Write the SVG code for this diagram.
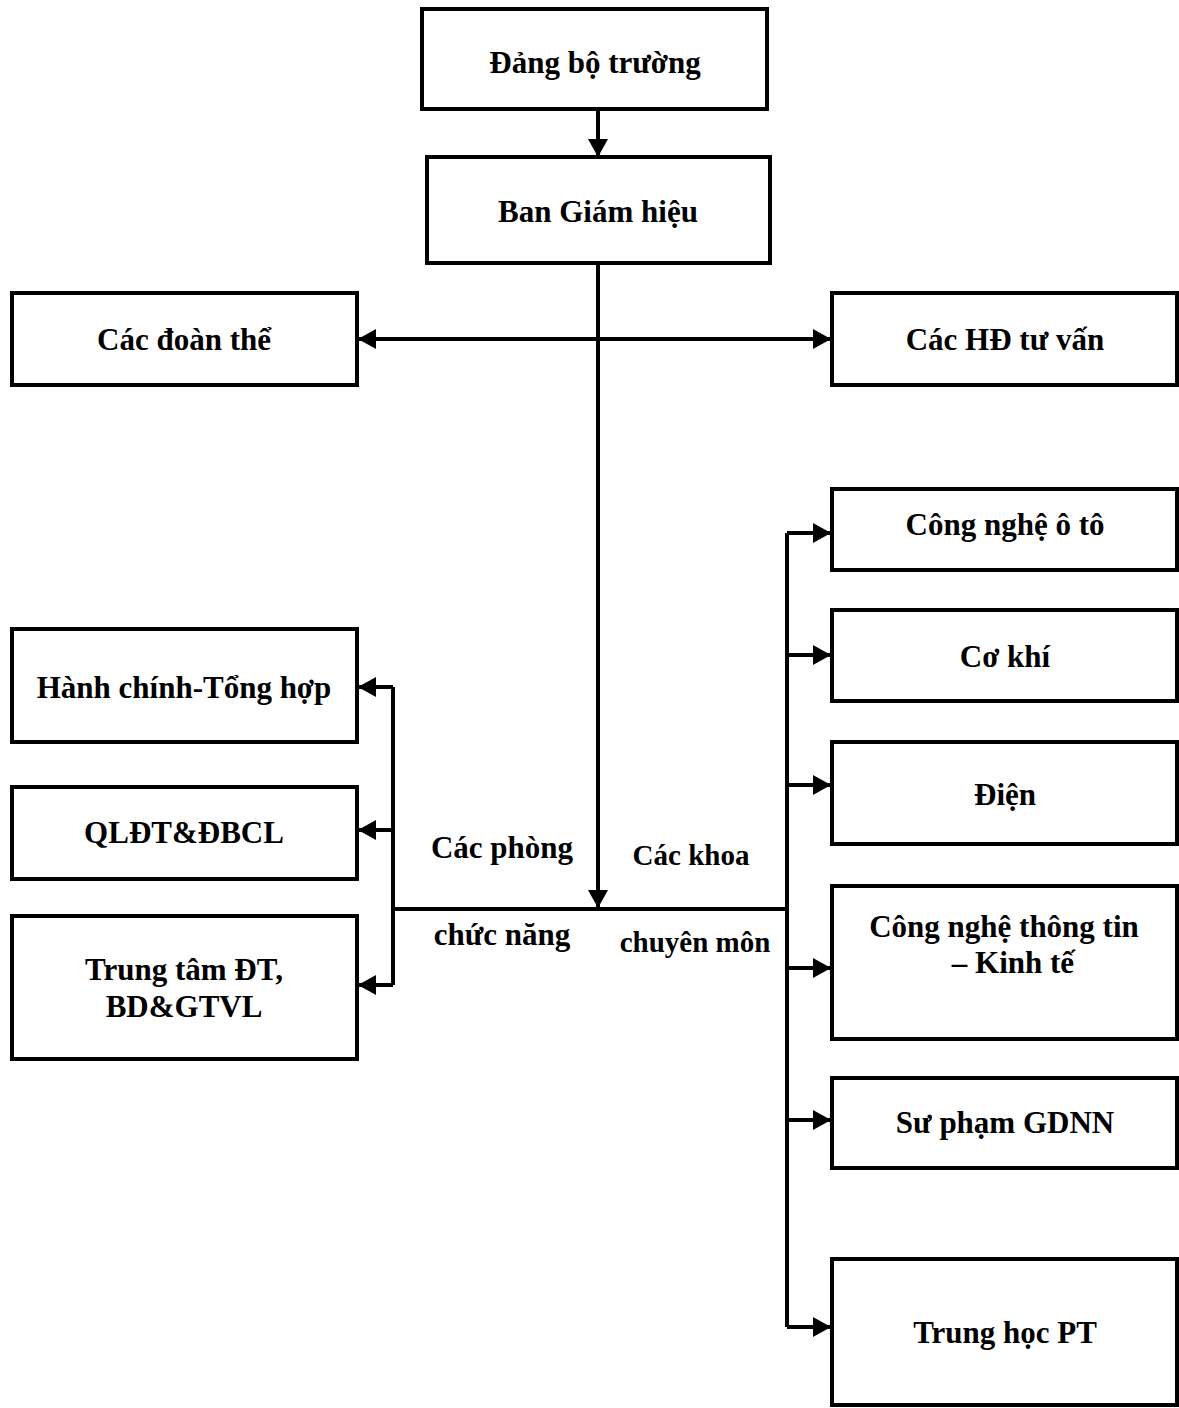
<svg xmlns="http://www.w3.org/2000/svg" width="1179" height="1408" viewBox="0 0 1179 1408">
<style>
rect.box{fill:#fff;stroke:#000;stroke-width:4}
text{font-family:"Liberation Serif","Times New Roman",serif;font-weight:bold;font-size:31px;fill:#000;text-anchor:middle}
text.sm{font-size:29px}
.c{fill:none;stroke:#000;stroke-width:4}
</style>
<defs>
<marker id="ah" markerUnits="userSpaceOnUse" markerWidth="18" markerHeight="20" refX="18" refY="10" orient="auto-start-reverse" viewBox="0 0 18 20">
<path d="M0,0 L18,10 L0,20 z" fill="#000"/>
</marker>
</defs>
<g id="connectors">
<line class="c" x1="598" y1="110" x2="598" y2="157" marker-end="url(#ah)"/>
<line class="c" x1="358" y1="339" x2="831" y2="339" marker-start="url(#ah)" marker-end="url(#ah)"/>
<line class="c" x1="598" y1="263" x2="598" y2="908" marker-end="url(#ah)"/>
<line class="c" x1="393" y1="909" x2="787" y2="909"/>
<polyline class="c" points="393,687 393,985"/>
<line class="c" x1="393" y1="687" x2="358" y2="687" marker-end="url(#ah)"/>
<line class="c" x1="393" y1="830" x2="358" y2="830" marker-end="url(#ah)"/>
<line class="c" x1="393" y1="985" x2="358" y2="985" marker-end="url(#ah)"/>
<polyline class="c" points="787,533 787,1327"/>
<line class="c" x1="787" y1="533" x2="831" y2="533" marker-end="url(#ah)"/>
<line class="c" x1="787" y1="655" x2="831" y2="655" marker-end="url(#ah)"/>
<line class="c" x1="787" y1="785" x2="831" y2="785" marker-end="url(#ah)"/>
<line class="c" x1="787" y1="968" x2="831" y2="968" marker-end="url(#ah)"/>
<line class="c" x1="787" y1="1120" x2="831" y2="1120" marker-end="url(#ah)"/>
<line class="c" x1="787" y1="1327" x2="831" y2="1327" marker-end="url(#ah)"/>
</g>
<g id="dang-bo"><rect class="box" x="422" y="9" width="345" height="100"/><text x="595" y="73">Đảng bộ trường</text></g>
<g id="ban-giam-hieu"><rect class="box" x="427" y="157" width="343" height="106"/><text x="598" y="222">Ban Giám hiệu</text></g>
<g id="doan-the"><rect class="box" x="12" y="293" width="345" height="92"/><text x="184" y="350">Các đoàn thể</text></g>
<g id="hd-tu-van"><rect class="box" x="832" y="293" width="345" height="92"/><text x="1005" y="350">Các HĐ tư vấn</text></g>
<g id="hanh-chinh"><rect class="box" x="12" y="629" width="345" height="113"/><text x="184" y="698">Hành chính-Tổng hợp</text></g>
<g id="qldt"><rect class="box" x="12" y="787" width="345" height="92"/><text x="184" y="843">QLĐT&amp;ĐBCL</text></g>
<g id="trung-tam"><rect class="box" x="12" y="916" width="345" height="143"/><text x="184" y="980">Trung tâm ĐT,</text><text x="184" y="1017">BD&amp;GTVL</text></g>
<g id="label-phong"><text x="502" y="858">Các phòng</text><text x="502" y="945">chức năng</text></g>
<g id="label-khoa"><text class="sm" x="691" y="865">Các khoa</text><text class="sm" x="695" y="952">chuyên môn</text></g>
<g id="oto"><rect class="box" x="832" y="489" width="345" height="81"/><text x="1005" y="535">Công nghệ ô tô</text></g>
<g id="co-khi"><rect class="box" x="832" y="610" width="345" height="91"/><text x="1005" y="667">Cơ khí</text></g>
<g id="dien"><rect class="box" x="832" y="742" width="345" height="102"/><text x="1005" y="805">Điện</text></g>
<g id="cntt"><rect class="box" x="832" y="886" width="345" height="153"/><text x="1004" y="937">Công nghệ thông tin</text><text x="1013" y="973">– Kinh tế</text></g>
<g id="su-pham"><rect class="box" x="832" y="1078" width="345" height="90"/><text x="1005" y="1133">Sư phạm GDNN</text></g>
<g id="thpt"><rect class="box" x="832" y="1259" width="345" height="146"/><text x="1005" y="1343">Trung học PT</text></g>
</svg>
